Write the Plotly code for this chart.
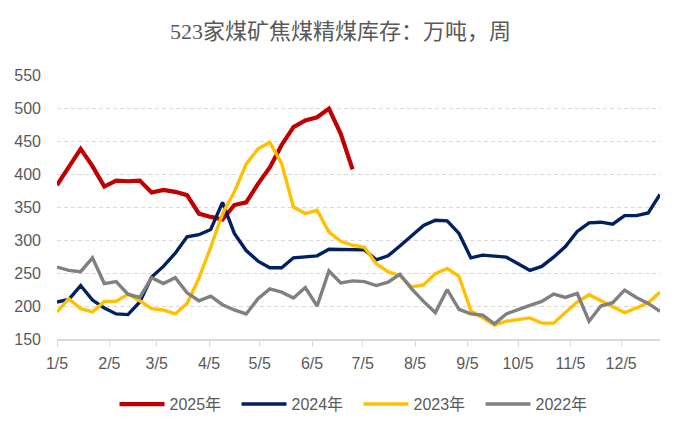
import pandas as pd
import plotly.graph_objects as go

weeks = pd.date_range("2025-01-05", periods=52, freq="7D")

red_2025 = [383, 411, 438, 412, 381, 390, 389, 390, 372, 376, 373, 368, 340, 335,
            331, 353, 357, 385, 410, 444, 471, 481, 486, 499, 461, 407]
blue_2024 = [206, 210, 231, 209, 197, 188, 187, 206, 244, 260, 280, 305, 308, 316,
             357, 310, 284, 268, 258, 258, 273, 275, 276, 286, 286, 285, 285, 270,
             276, 291, 306, 322, 330, 329, 310, 273, 277, 276, 274, 264, 254, 260,
             274, 290, 313, 326, 327, 324, 337, 337, 341, 369]
yellow_2023 = [191, 211, 196, 191, 207, 207, 218, 208, 196, 194, 188, 204, 242, 289,
               340, 373, 415, 438, 448, 416, 350, 340, 345, 312, 298, 292, 289, 264,
               252, 246, 229, 232, 249, 257, 245, 193, 182, 171, 177, 180, 182, 174,
               174, 190, 206, 217, 208, 200, 190, 197, 205, 221]
gray_2022 = [259, 254, 252, 273, 234, 237, 218, 213, 243, 234, 243, 220, 208, 215,
             202, 194, 188, 211, 226, 221, 212, 228, 200, 253, 235, 238, 237, 231,
             236, 248, 226, 207, 190, 225, 195, 188, 186, 173, 188, 195, 201, 207,
             218, 213, 219, 177, 200, 205, 224, 213, 204, 192]

series_names = ["2025年", "2024年", "2023年", "2022年"]
series_values = [red_2025, blue_2024, yellow_2023, gray_2022]
series_colors = ["#C00000", "#002060", "#FFC000", "#808080"]
series_widths = [4.2, 3.4, 3.4, 3.4]

tick_dates = [f"2025-{m:02d}-05" for m in range(1, 13)]
tick_labels = [f"{m}/5" for m in range(1, 13)]
y_ticks = [150, 200, 250, 300, 350, 400, 450, 500, 550]

fig = go.Figure()
for name, vals, col, w in zip(series_names, series_values, series_colors, series_widths):
    fig.add_trace(go.Scatter(
        x=weeks[:len(vals)], y=vals, name=name, mode="lines",
        line=dict(color=col, width=w), hoverinfo="skip"))

tick_font = dict(family="Liberation Sans, Arial", size=16, color="#595959")

fig.update_layout(
    width=681, height=432,
    margin=dict(l=57, r=21, t=75, b=92),
    paper_bgcolor="white", plot_bgcolor="white",
    title=dict(
        text="523家煤矿焦煤精煤库存：万吨，周",
        x=0.5, xref="container", xanchor="center",
        y=1 - 31 / 432, yref="container", yanchor="middle",
        font=dict(family="Liberation Serif, Noto Sans CJK SC", size=22, color="#595959")),
    showlegend=True,
    legend=dict(
        orientation="h", x=0.5, xanchor="center", y=-0.242, yanchor="middle",
        font=dict(family="Liberation Sans, Noto Sans CJK SC", size=16, color="#595959"),
        itemwidth=45, entrywidth=62, entrywidthmode="pixels",
        tracegroupgap=0, bgcolor="rgba(0,0,0,0)"),
    xaxis=dict(
        type="date",
        range=[weeks[0], weeks[-1]],
        tickmode="array", tickvals=tick_dates, ticktext=tick_labels,
        showgrid=False, zeroline=False,
        showline=True, linecolor="#D9D9D9", linewidth=1.5,
        ticks="outside", ticklen=6, tickcolor="#D9D9D9", tickwidth=1.2,
        tickfont=tick_font, ticklabelstandoff=3),
    yaxis=dict(
        range=[150, 550], tickmode="array", tickvals=y_ticks,
        showgrid=True, gridcolor="#D9D9D9", griddash="4px,3px", gridwidth=1,
        zeroline=False, showline=False,
        tickfont=tick_font, ticklabelstandoff=15),
)

fig.write_html("out.html", config={"displayModeBar": False},
               post_script="document.body.style.margin='0';")
